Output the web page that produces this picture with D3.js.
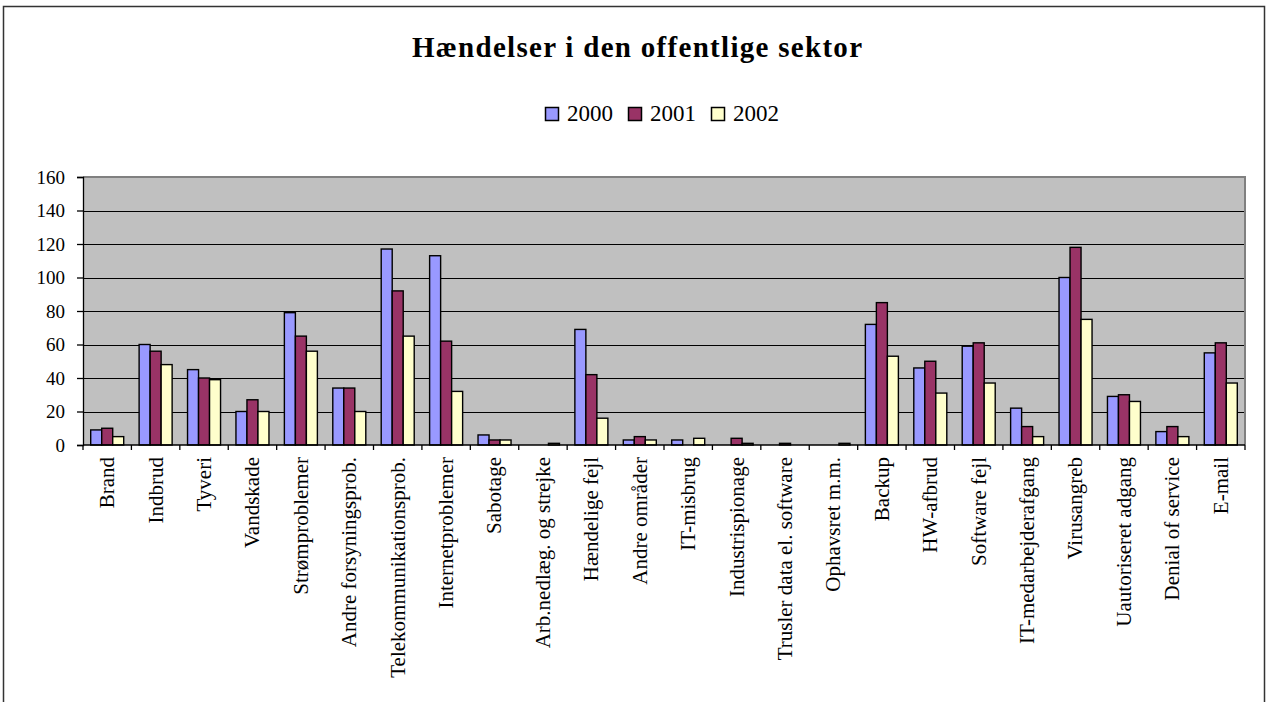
<!DOCTYPE html>
<html>
<head>
<meta charset="utf-8">
<script src="https://cdn.jsdelivr.net/npm/d3@7"></script>
<style>
  body { margin: 0; background: #fff; }
  text { font-family: "Liberation Serif", "Times New Roman", serif; fill: #000; }
</style>
</head>
<body>
<script>
//categories along the x axis
var categories = ["Brand", "Indbrud", "Tyveri", "Vandskade", "Strømproblemer", "Andre forsyningsprob.",
    "Telekommunikationsprob.", "Internetproblemer", "Sabotage", "Arb.nedlæg. og strejke", "Hændelige fejl",
    "Andre områder", "IT-misbrug", "Industrispionage", "Trusler data el. software", "Ophavsret m.m.",
    "Backup", "HW-afbrud", "Software fejl", "IT-medarbejderafgang", "Virusangreb", "Uautoriseret adgang",
    "Denial of service", "E-mail"];

//series
var years = ["2000", "2001", "2002"];
var values2000 = [9, 60, 45, 20, 79, 34, 117, 113, 6, 0, 69, 3, 3, 0, 0, 0, 72, 46, 59, 22, 100, 29, 8, 55];
var values2001 = [10, 56, 40, 27, 65, 34, 92, 62, 3, 0, 42, 5, 0, 4, 1, 0, 85, 50, 61, 11, 118, 30, 11, 61];
var values2002 = [5, 48, 39, 20, 56, 20, 65, 32, 3, 1, 16, 3, 4, 1, 0, 1, 53, 31, 37, 5, 75, 26, 5, 37];
var yTicks = [0, 20, 40, 60, 80, 100, 120, 140, 160];

var colors = ["#9999ff", "#993366", "#ffffcc"];
var seriesValues = [values2000, values2001, values2002];

var width = 1266,
    height = 702;

var svg = d3.select("body")
    .append("svg")
    .attr("width", width)
    .attr("height", height);

//outer chart frame
svg.append("rect")
    .attr("x", 3.5)
    .attr("y", 6.5)
    .attr("width", 1261)
    .attr("height", 720)
    .attr("fill", "none")
    .attr("stroke", "#333")
    .attr("stroke-width", 1.5);

//title
svg.append("text")
    .attr("x", 637)
    .attr("y", 57)
    .attr("text-anchor", "middle")
    .attr("font-size", 29)
    .attr("font-weight", "bold")
    .attr("textLength", 450)
    .attr("lengthAdjust", "spacing")
    .text("Hændelser i den offentlige sektor");

//legend
var legendX = [545, 628, 711];
years.forEach(function(yr, i){
    svg.append("rect")
        .attr("x", legendX[i] + 0.5)
        .attr("y", 107.5)
        .attr("width", 13)
        .attr("height", 13)
        .attr("fill", colors[i])
        .attr("stroke", "#000")
        .attr("stroke-width", 1.5);
    svg.append("text")
        .attr("x", legendX[i] + 22)
        .attr("y", 121)
        .attr("font-size", 23)
        .text(yr);
});

//plot area
var plotLeft = 83, plotRight = 1245, plotTop = 177, plotBottom = 445;

var x0 = d3.scaleBand()
    .domain(categories)
    .range([plotLeft, plotRight])
    .paddingInner(0)
    .paddingOuter(0);

var x1 = d3.scaleBand()
    .domain(years)
    .range([0, x0.bandwidth()])
    .paddingInner(0)
    .paddingOuter(0.7);

var y = d3.scaleLinear()
    .domain([0, 160])
    .range([plotBottom, plotTop]);

svg.append("rect")
    .attr("x", plotLeft)
    .attr("y", plotTop)
    .attr("width", plotRight - plotLeft)
    .attr("height", plotBottom - plotTop)
    .attr("fill", "#c0c0c0");

//gridlines
svg.selectAll(".grid")
    .data(yTicks.slice(1, -1))
    .enter()
    .append("line")
    .attr("class", "grid")
    .attr("x1", plotLeft)
    .attr("x2", plotRight)
    .attr("y1", function(d){ return Math.round(y(d)) + 0.5; })
    .attr("y2", function(d){ return Math.round(y(d)) + 0.5; })
    .attr("stroke", "#000")
    .attr("stroke-width", 1);

//plot border top/right
svg.append("path")
    .attr("d", "M" + plotLeft + "," + plotTop + "H" + plotRight + "V" + plotBottom)
    .attr("fill", "none")
    .attr("stroke", "#808080")
    .attr("stroke-width", 2);

//bars
var groups = svg.selectAll(".cat")
    .data(categories)
    .enter()
    .append("g")
    .attr("class", "cat")
    .attr("transform", function(d){ return "translate(" + x0(d) + ",0)"; });

groups.selectAll("rect")
    .data(function(d, i){
        return years.map(function(yr, k){ return {year: yr, value: seriesValues[k][i], k: k}; });
    })
    .enter()
    .append("rect")
    .attr("x", function(d){ return x1(d.year); })
    .attr("y", function(d){ return y(d.value); })
    .attr("width", x1.bandwidth())
    .attr("height", function(d){ return plotBottom - y(d.value); })
    .attr("fill", function(d){ return colors[d.k]; })
    .attr("stroke", "#000")
    .attr("stroke-width", 1.4);

//y axis
var yAxis = d3.axisLeft(y)
    .tickValues(yTicks)
    .tickSize(6)
    .tickPadding(12);

svg.append("g")
    .attr("transform", "translate(" + plotLeft + ",0)")
    .call(yAxis)
    .call(function(g){
        g.selectAll("path, line").attr("stroke", "#000").attr("stroke-width", 1.3);
        g.selectAll("text")
            .attr("font-size", 19)
            .attr("font-family", "Liberation Serif, Times New Roman, serif");
    });

//x axis with ticks at category boundaries
var bounds = categories.map(function(c){ return x0(c); }).concat([plotRight]);

svg.append("line")
    .attr("x1", plotLeft)
    .attr("x2", plotRight)
    .attr("y1", plotBottom)
    .attr("y2", plotBottom)
    .attr("stroke", "#000")
    .attr("stroke-width", 1.5);

svg.selectAll(".xtick")
    .data(bounds)
    .enter()
    .append("line")
    .attr("class", "xtick")
    .attr("x1", function(d){ return d; })
    .attr("x2", function(d){ return d; })
    .attr("y1", plotBottom)
    .attr("y2", plotBottom + 5)
    .attr("stroke", "#000")
    .attr("stroke-width", 1.3);

svg.selectAll(".xlabel")
    .data(categories)
    .enter()
    .append("text")
    .attr("class", "xlabel")
    .attr("transform", function(d){
        return "translate(" + (x0(d) + x0.bandwidth() / 2) + "," + (plotBottom + 12) + ") rotate(-90)";
    })
    .attr("text-anchor", "end")
    .attr("dy", "0.33em")
    .attr("font-size", 21)
    .text(function(d){ return d; });
</script>
</body>
</html>
